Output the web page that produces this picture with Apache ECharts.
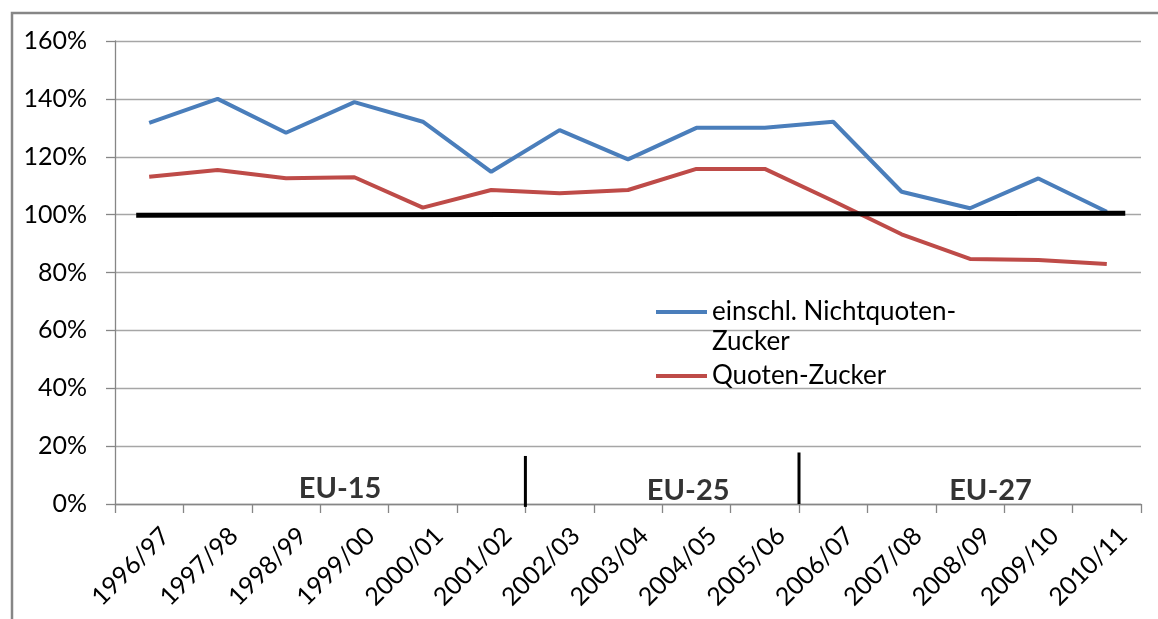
<!DOCTYPE html>
<html>
<head>
<meta charset="utf-8">
<script src="https://cdn.jsdelivr.net/npm/echarts@6/dist/echarts.min.js"></script>
<style>
  html, body { margin: 0; padding: 0; background: #fff; }
  #chart { width: 1158px; height: 619px; }
</style>
</head>
<body>
<div id="chart"></div>
<script>
// Kategorien (Wirtschaftsjahre)
const years = ['1996/97', '1997/98', '1998/99', '1999/00', '2000/01', '2001/02', '2002/03',
  '2003/04', '2004/05', '2005/06', '2006/07', '2007/08', '2008/09', '2009/10', '2010/11'];

// Selbstversorgungsgrad in %
const mitNichtquote = [131.7, 140, 128.3, 138.9, 132.1, 114.8, 129.2, 119.1, 130, 130, 132.1, 107.9, 102.2, 112.5, 101];
const quotenZucker = [113.1, 115.4, 112.6, 112.9, 102.4, 108.5, 107.4, 108.5, 115.8, 115.8, 104.7, 93.2, 84.7, 84.3, 82.9];

// 100%-Linie (x in Kategorie-Einheiten)
const refLine = [[0.31, 99.8], [14.77, 100.5]];

// Trennstriche zwischen EU-15 / EU-25 / EU-27
const dividers = [
  [[6, -1], [6, 16.6]],
  [[10, 0], [10, 17.8]]
];
const euLabels = [
  { name: 'EU-15', value: [3.29, 5.2] },
  { name: 'EU-25', value: [8.38, 4.5] },
  { name: 'EU-27', value: [12.8, 4.5] }
];

const yTicks = { min: 0, max: 160, interval: 20 };

const FONT = 'Lato';
const BLUE = '#4a7ebb';
const RED = '#be4b48';

const chart = echarts.init(document.getElementById('chart'));

const option = {
  animation: false,
  backgroundColor: '#fff',
  textStyle: { fontFamily: FONT },
  graphic: [{
    type: 'rect',
    shape: { x: 12, y: 13, width: 1200, height: 700 },
    style: { fill: 'none', stroke: '#868686', lineWidth: 2.5 },
    silent: true
  }],
  grid: { left: 115, right: 17, top: 41, bottom: 115 },
  legend: [
    {
      data: ['einschl. Nichtquoten-Zucker'],
      left: 651,
      top: 262,
      icon: 'rect',
      itemWidth: 51,
      itemHeight: 4,
      selectedMode: false,
      // leere erste Zeile, damit die Linie auf Höhe der ersten Textzeile sitzt
      formatter: () => ' \neinschl. Nichtquoten-\nZucker',
      textStyle: { fontFamily: FONT, fontSize: 26, color: '#000', lineHeight: 30 }
    },
    {
      data: ['Quoten-Zucker'],
      left: 651,
      top: 356,
      icon: 'rect',
      itemWidth: 51,
      itemHeight: 4,
      selectedMode: false,
      textStyle: { fontFamily: FONT, fontSize: 26, color: '#000', lineHeight: 30 }
    }
  ],
  xAxis: [
    {
      type: 'category',
      data: years,
      boundaryGap: true,
      axisLine: { lineStyle: { color: '#868686', width: 1.3 } },
      axisTick: { show: true, interval: 0, length: 9, lineStyle: { color: '#868686', width: 1.3 } },
      axisLabel: {
        interval: 0,
        rotate: 45,
        margin: 44,
        padding: [0, -23, 0, 0],
        color: '#000',
        fontFamily: FONT,
        fontSize: 25
      },
      splitLine: { show: false }
    },
    {
      type: 'value',
      min: 0,
      max: years.length,
      show: false
    }
  ],
  yAxis: {
    type: 'value',
    min: yTicks.min,
    max: yTicks.max,
    interval: yTicks.interval,
    axisLine: { show: true, lineStyle: { color: '#868686', width: 1.3 } },
    axisTick: { show: true, length: 9, lineStyle: { color: '#868686', width: 1.3 } },
    axisLabel: { formatter: '{value}%', margin: 28, color: '#000', fontFamily: FONT, fontSize: 25 },
    splitLine: { show: true, lineStyle: { color: '#a6a6a6', width: 1.3 } }
  },
  series: [
    {
      name: 'einschl. Nichtquoten-Zucker',
      type: 'line',
      data: mitNichtquote,
      showSymbol: false,
      symbol: 'none',
      color: BLUE,
      lineStyle: { color: BLUE, width: 4 }
    },
    {
      name: 'Quoten-Zucker',
      type: 'line',
      data: quotenZucker,
      showSymbol: false,
      symbol: 'none',
      color: RED,
      lineStyle: { color: RED, width: 4 }
    },
    {
      name: '100%',
      type: 'line',
      xAxisIndex: 1,
      data: refLine,
      symbol: 'none',
      lineStyle: { color: '#000', width: 5 },
      z: 5
    },
    ...dividers.map((d, i) => ({
      name: 'div' + i,
      type: 'line',
      xAxisIndex: 1,
      data: d,
      symbol: 'none',
      clip: false,
      lineStyle: { color: '#000', width: 3 },
      z: 5
    })),
    {
      name: 'EU',
      type: 'scatter',
      xAxisIndex: 1,
      data: euLabels,
      symbolSize: 0,
      silent: true,
      label: {
        show: true,
        position: 'inside',
        formatter: '{b}',
        color: '#000',
        fontFamily: FONT,
        fontWeight: 'bold',
        fontSize: 29
      },
      z: 6
    }
  ]
};

chart.setOption(option);
</script>
</body>
</html>
